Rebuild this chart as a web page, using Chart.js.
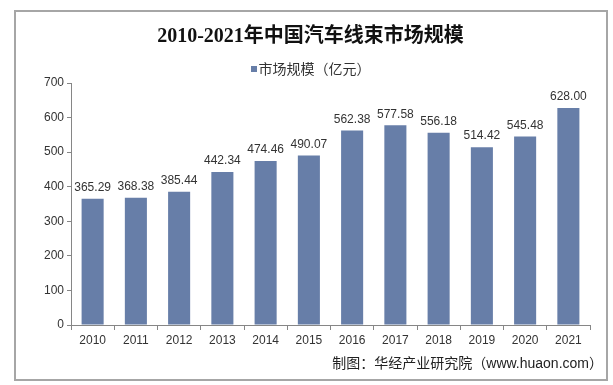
<!DOCTYPE html>
<html lang="zh">
<head>
<meta charset="UTF-8">
<title>2010-2021年中国汽车线束市场规模</title>
<script src="https://cdn.jsdelivr.net/npm/chart.js"></script>
<style>
  body { margin: 0; background: #fff; }
  #wrap { position: relative; width: 613px; height: 385px; overflow: hidden; }
  #frame { position: absolute; left: 14px; top: 10px; width: 590px; height: 367px; border: 2px solid #a6a6a6; pointer-events: none; }
  #title { position: absolute; left: 4px; width: 613px; top: 19px; text-align: center;
           font: bold 20px "Liberation Serif", "Noto Sans CJK SC", serif; color: #111; }
  #legend { position: absolute; left: 4px; width: 613px; top: 58px; text-align: center;
            font: 14px "Noto Sans CJK SC", sans-serif; color: #333; }
  #legend span.box { display: inline-block; width: 6px; height: 6px; background: #677ea8; margin-right: 2px; vertical-align: 2px; }
  #footer { position: absolute; right: 10px; top: 352px;
            font: 14px "Liberation Sans", "Noto Sans CJK SC", sans-serif; color: #222; }
  canvas { position: absolute; left: 0; top: 0; }
</style>
</head>
<body>
<div id="wrap">
  <canvas id="myChart" width="613" height="385"></canvas>
  <div id="title">2010-2021年中国汽车线束市场规模</div>
  <div id="legend"><span class="box"></span>市场规模（亿元）</div>
  <div id="footer">制图：华经产业研究院（www.huaon.com）</div>
  <div id="frame"></div>
</div>
<script>
    var years = ['2010', '2011', '2012', '2013', '2014', '2015', '2016', '2017', '2018', '2019', '2020', '2021'];
    var market_size = [365.29, 368.38, 385.44, 442.34, 474.46, 490.07, 562.38, 577.58, 556.18, 514.42, 545.48, 628.00];
    var y_ticks = [0, 100, 200, 300, 400, 500, 600, 700];

    var axis_color = '#868686';
    var text_color = '#333333';

    // draws the value above every bar
    var value_labels = {
        id: 'value_labels',
        afterDatasetsDraw: function(chart) {
            var ctx = chart.ctx;
            var meta = chart.getDatasetMeta(0);
            ctx.save();
            ctx.font = '12px "Liberation Sans", Arial, sans-serif';
            ctx.fillStyle = text_color;
            ctx.textAlign = 'center';
            ctx.textBaseline = 'middle';
            meta.data.forEach(function(bar, i) {
                ctx.fillText(market_size[i].toFixed(2), bar.x, bar.y - 11);
            });
            ctx.restore();
        }
    };

    var chart = new Chart(document.getElementById('myChart'), {
        type: 'bar',
        data: {
            labels: years,
            datasets: [{
                label: '市场规模（亿元）',
                data: market_size,
                backgroundColor: '#677ea8',
                barPercentage: 0.51,
                categoryPercentage: 1.0
            }]
        },
        options: {
            responsive: false,
            animation: false,
            layout: { padding: { left: 0, right: 23, top: 83, bottom: 30 } },
            plugins: {
                legend: { display: false },
                title: { display: false },
                tooltip: { enabled: false }
            },
            scales: {
                x: {
                    grid: { drawOnChartArea: false, drawTicks: true, tickLength: 5, offset: true, color: axis_color },
                    border: { color: axis_color },
                    ticks: { color: text_color, padding: 3, font: { size: 12, family: '"Liberation Sans", Arial, sans-serif' } },
                    afterFit: function(scale) { scale.height = 30; }
                },
                y: {
                    min: 0,
                    max: 700,
                    afterBuildTicks: function(scale) {
                        scale.ticks = y_ticks.map(function(v) { return { value: v }; });
                    },
                    grid: { drawOnChartArea: false, drawTicks: true, tickLength: 4, color: axis_color },
                    border: { color: axis_color },
                    ticks: { color: text_color, padding: 3, font: { size: 12, family: '"Liberation Sans", Arial, sans-serif' } },
                    afterFit: function(scale) { scale.width = 71; }
                }
            }
        },
        plugins: [value_labels]
    });
</script>
</body>
</html>
